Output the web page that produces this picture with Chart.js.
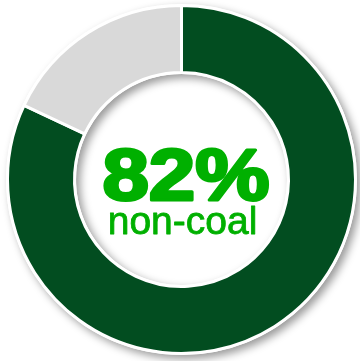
<!DOCTYPE html>
<html>
<head>
<meta charset="utf-8">
<script src="https://cdn.jsdelivr.net/npm/chart.js@4/dist/chart.umd.min.js"></script>
<style>
  html, body { margin: 0; padding: 0; background: #ffffff; }
  #wrap { width: 360px; height: 361px; }
</style>
</head>
<body>
<div id="wrap"><canvas id="donut" width="360" height="361"></canvas></div>
<script>
const labels = ["non-coal", "coal"];
const values = [82, 18];
const colors = ["#024d20", "#d9d9d9"];
const centerLabel = "non-coal";

// white ring with a drop shadow under the arcs
const ringShadow = {
    id: "ringShadow",
    beforeDatasetsDraw(chart) {
        const arc = chart.getDatasetMeta(0).data[0];
        if (!arc) return;
        const { x, y, outerRadius, innerRadius } = arc.getProps(["x", "y", "outerRadius", "innerRadius"], true);
        const ctx = chart.ctx;
        ctx.save();
        ctx.shadowColor = "rgba(0,0,0,0.4)";
        ctx.shadowBlur = 8;
        ctx.shadowOffsetX = 4;
        ctx.shadowOffsetY = 4;
        ctx.fillStyle = "#ffffff";
        ctx.beginPath();
        ctx.arc(x, y, outerRadius + 1.5, 0, Math.PI * 2);
        ctx.arc(x, y, innerRadius - 1.5, 0, Math.PI * 2, true);
        ctx.fill();
        ctx.restore();
    }
};

// big percentage in the hole
const centerText = {
    id: "centerText",
    afterDraw(chart) {
        const arc = chart.getDatasetMeta(0).data[0];
        if (!arc) return;
        const { x, y } = arc.getProps(["x", "y"], true);
        const ctx = chart.ctx;
        ctx.save();
        ctx.fillStyle = "#00b000";
        ctx.strokeStyle = "#00b000";
        ctx.lineJoin = "round";
        ctx.textAlign = "center";
        ctx.textBaseline = "alphabetic";

        ctx.save();
        ctx.translate(x + 4.5, y + 20);
        ctx.scale(1.16, 1);
        ctx.font = "bold 72px 'Liberation Sans', Arial, sans-serif";
        ctx.lineWidth = 3;
        ctx.fillText(values[0] + "%", 0, 0);
        ctx.strokeText(values[0] + "%", 0, 0);
        ctx.restore();

        ctx.font = "39px 'Liberation Sans', Arial, sans-serif";
        ctx.lineWidth = 0.8;
        ctx.fillText(centerLabel, x + 1, y + 54.5);
        ctx.strokeText(centerLabel, x + 1, y + 54.5);
        ctx.restore();
    }
};

new Chart(document.getElementById("donut"), {
    type: "doughnut",
    data: {
        labels,
        datasets: [{
            data: values,
            backgroundColor: colors,
            borderColor: "#ffffff",
            borderWidth: 3
        }]
    },
    options: {
        responsive: false,
        animation: false,
        cutout: "61.5%",
        layout: { padding: { left: 6, right: 3, top: 3, bottom: 5 } },
        plugins: {
            legend: { display: false },
            tooltip: { enabled: false }
        }
    },
    plugins: [ringShadow, centerText]
});
</script>
</body>
</html>
